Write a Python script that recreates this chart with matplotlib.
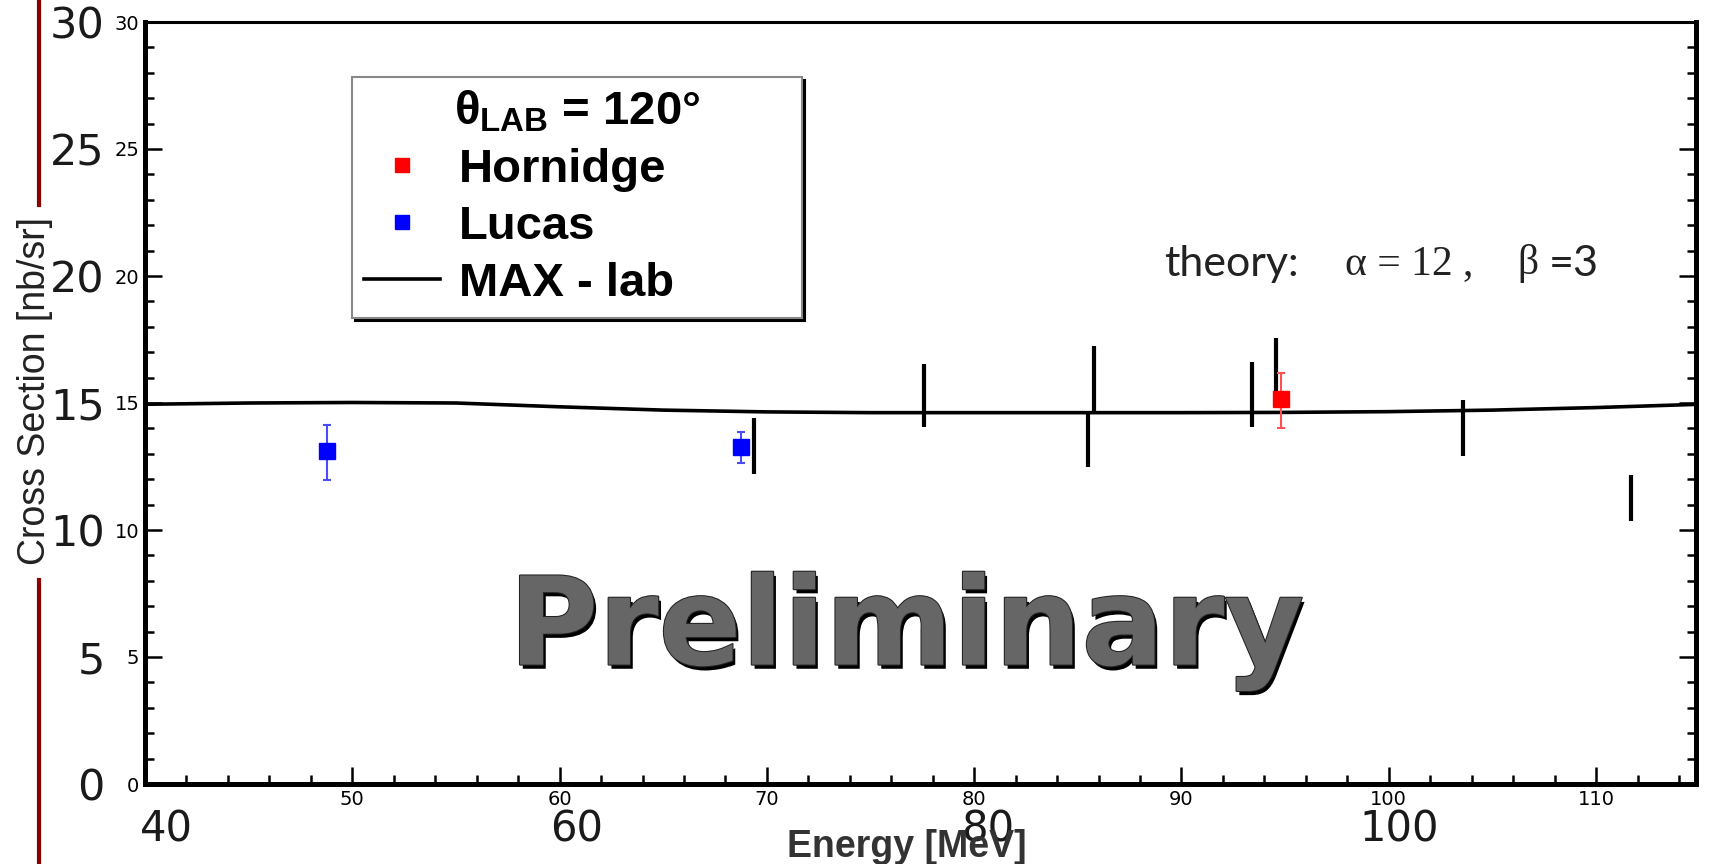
import matplotlib
matplotlib.use("Agg")
import matplotlib.pyplot as plt
import matplotlib.patheffects as pe
from matplotlib.lines import Line2D
from matplotlib.ticker import MultipleLocator
from matplotlib.font_manager import FontProperties

# theory curve (MAX-lab, alpha=12, beta=3)
theory_E = [40, 45, 50, 55, 60, 65, 70, 75, 80, 85, 90, 95, 100, 105, 110, 115]
theory_xs = [14.95, 15.0, 15.02, 15.0, 14.85, 14.72, 14.65, 14.62, 14.62,
             14.62, 14.62, 14.63, 14.66, 14.72, 14.82, 14.95]

# black error bars (no markers)
bars_E = [69.4, 77.6, 85.5, 85.8, 93.4, 94.55, 103.6, 111.7]
bars_lo = [12.2, 14.05, 12.5, 14.62, 14.05, 15.1, 12.9, 10.35]
bars_hi = [14.4, 16.55, 14.62, 17.25, 16.6, 17.55, 15.1, 12.15]

# Lucas (blue)
lucas_E = [48.8, 68.75]
lucas_xs = [13.1, 13.25]
lucas_lo = [11.95, 12.65]
lucas_hi = [14.15, 13.85]

# Hornidge (red)
horn_E = [94.8]
horn_xs = [15.15]
horn_lo = [14.0]
horn_hi = [16.2]

inner_xticks = [50, 60, 70, 80, 90, 100, 110]
inner_yticks = [0, 5, 10, 15, 20, 25, 30]
outer_xticks = [40, 60, 80, 100]
outer_yticks = [0, 5, 10, 15, 20, 25, 30]

plt.rcParams["mathtext.fontset"] = "custom"
plt.rcParams["mathtext.rm"] = "Liberation Sans:bold"
plt.rcParams["mathtext.it"] = "Liberation Sans:bold"
plt.rcParams["mathtext.bf"] = "Liberation Sans:bold"

W, H = 1715, 864
fig = plt.figure(figsize=(W / 100, H / 100), dpi=100)


def fx(px):
    return px / W


def fy(py):
    return 1 - py / H


rect = [fx(145), fy(784), fx(1695.6) - fx(145), fy(22) - fy(784)]

# big background labels from the pasted-over plot
ax_out = fig.add_axes(rect, frameon=False)
ax_out.set_xlim(38.98, 114.43)
ax_out.set_ylim(0, 30)
ax_out.set_xticks(outer_xticks)
ax_out.set_yticks(outer_yticks)
ax_out.tick_params(axis="x", length=0, labelsize=30, colors="#1a1a1a", pad=18)
ax_out.tick_params(axis="y", length=0, labelsize=31, colors="#1a1a1a", pad=29)

# main plot
ax = fig.add_axes(rect)
ax.patch.set_alpha(0)
ax.set_xlim(40, 114.8)
ax.set_ylim(0, 30)

ax.plot(theory_E, theory_xs, color="black", lw=2.6, zorder=2)
ax.vlines(bars_E, bars_lo, bars_hi, color="black", lw=3, zorder=3)

lucas_err = [[y - lo for y, lo in zip(lucas_xs, lucas_lo)],
             [hi - y for y, hi in zip(lucas_xs, lucas_hi)]]
ax.errorbar(lucas_E, lucas_xs, yerr=lucas_err, fmt="s", color="#0000ff",
            ecolor="#4a4aff", ms=11, elinewidth=1.5, capsize=3, capthick=1.5, zorder=4)
horn_err = [[y - lo for y, lo in zip(horn_xs, horn_lo)],
            [hi - y for y, hi in zip(horn_xs, horn_hi)]]
ax.errorbar(horn_E, horn_xs, yerr=horn_err, fmt="s", color="#ff0000",
            ecolor="#ff5050", ms=11, elinewidth=1.5, capsize=3, capthick=1.5, zorder=4)

ax.set_xticks(inner_xticks)
ax.set_yticks(inner_yticks)
ax.xaxis.set_minor_locator(MultipleLocator(2))
ax.yaxis.set_minor_locator(MultipleLocator(1))
ax.tick_params(which="both", direction="in", left=True, right=True, top=False,
               bottom=True, width=1.8, labelsize=14, pad=4)
ax.tick_params(which="major", length=12)
ax.tick_params(which="minor", length=6.5)
for side in ["left", "bottom", "right"]:
    ax.spines[side].set_linewidth(3.6)
ax.spines["top"].set_linewidth(2.2)

ax.set_xlabel("Energy [MeV]", fontsize=27, fontweight="bold", color="#333333",
              family="Liberation Sans", va="center")
ax.xaxis.set_label_coords(0.491, -0.083)
ax.set_ylabel("Cross Section [nb/sr]", fontsize=27, color="#222222",
              family="Liberation Sans", va="center")
ax.yaxis.set_label_coords(-0.071, 0.516)

# legend
leg_font = FontProperties(family="Liberation Sans", weight="bold", size=34)
h_horn = Line2D([], [], ls="none", marker="s", ms=10, color="#ff0000")
h_lucas = Line2D([], [], ls="none", marker="s", ms=10, color="#0000ff")
h_max = Line2D([], [], color="black", lw=2.6)
leg = ax.legend([h_horn, h_lucas, h_max], ["Hornidge", "Lucas", "MAX - lab"],
                title=r"$\theta_{\rm LAB}$ = 120°",
                loc="upper left",
                bbox_to_anchor=(fx(352), fy(306), fx(802) - fx(352), fy(77) - fy(306)),
                bbox_transform=fig.transFigure, mode="expand",
                prop=leg_font, title_fontproperties=leg_font,
                frameon=True, fancybox=False, edgecolor="#888888", framealpha=1,
                borderaxespad=0, borderpad=0.25, handlelength=1.62,
                handletextpad=0.4, labelspacing=0.28,
                shadow={"color": "black", "alpha": 1})
leg.get_frame().set_linewidth(1.5)

ax.text(0.491, 0.20, "Preliminary", transform=ax.transAxes, ha="center",
        va="center", fontsize=88, fontweight="bold", family="DejaVu Sans",
        color="#666666", zorder=5,
        path_effects=[pe.withSimplePatchShadow(offset=(2, -3), shadow_rgbFace="black", alpha=1),
                      pe.withStroke(linewidth=1.5, foreground="#222222")])

ax.text(0.657, 0.683, "theory:", transform=ax.transAxes, ha="left", va="center",
        fontsize=31, family="Lato", color="#222222")
ax.text(0.774, 0.683, "α = 12 ,", transform=ax.transAxes, ha="left", va="center",
        fontsize=30, family="Liberation Serif", color="#222222")
ax.text(0.885, 0.683, "β", transform=ax.transAxes, ha="left", va="center",
        fontsize=30, family="Liberation Serif", color="#222222")
ax.text(0.905, 0.683, "=3", transform=ax.transAxes, ha="left", va="center",
        fontsize=31, family="Lato", color="#222222")

# dark red rule at the left edge
fig.add_artist(Line2D([fx(39), fx(39)], [fy(0), fy(205)], color="#8b0000", lw=3))
fig.add_artist(Line2D([fx(39), fx(39)], [fy(580), fy(864)], color="#8b0000", lw=3))

fig.savefig("out.png", dpi=100)
